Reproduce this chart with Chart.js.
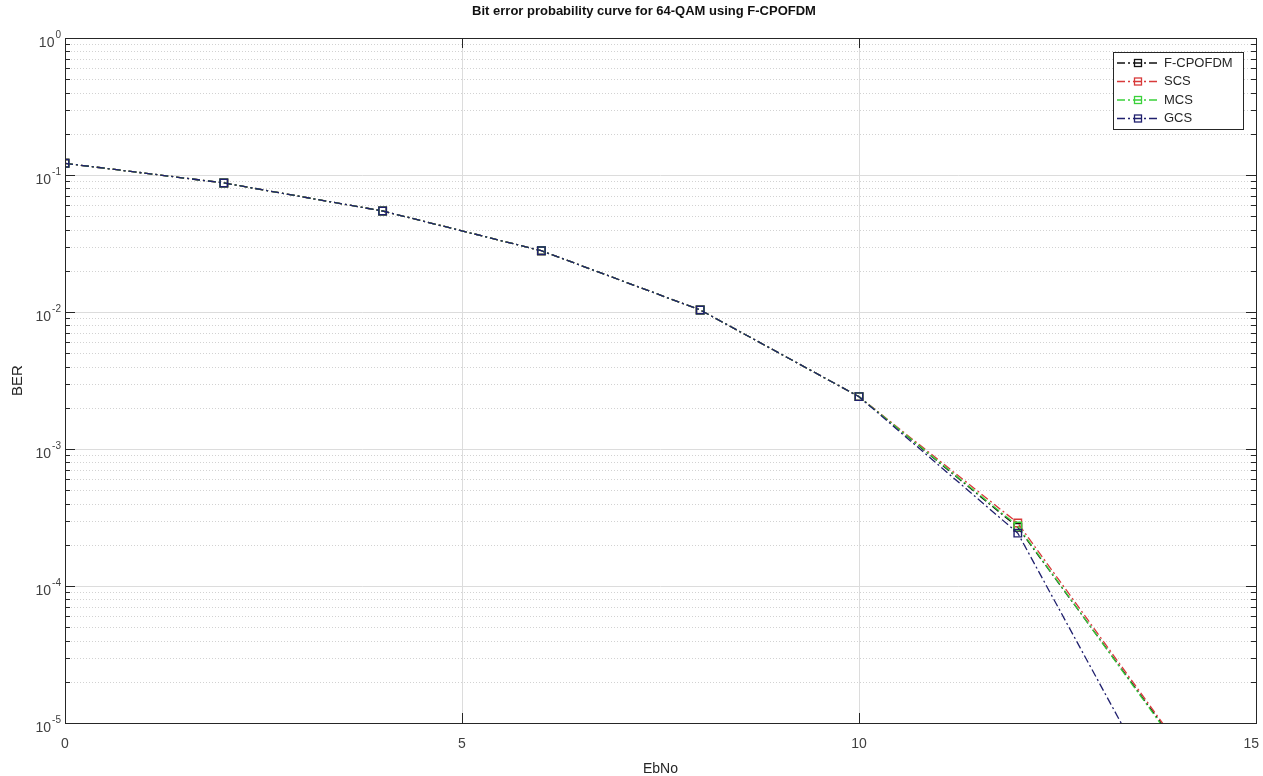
<!DOCTYPE html>
<html>
<head>
<meta charset="utf-8">
<script src="https://cdn.jsdelivr.net/npm/chart.js@4.4.1/dist/chart.umd.min.js"></script>
<style>
html,body{margin:0;padding:0;background:#fff;}
#wrap{width:1263px;height:776px;position:relative;}
canvas{display:block;}
</style>
</head>
<body>
<div id="wrap"><canvas id="c" width="1263" height="776"></canvas></div>
<script>
// ---- data ----
const chartTitle = 'Bit error probability curve for 64-QAM using F-CPOFDM';
const xLabel = 'EbNo';
const yLabel = 'BER';
const ebNo = [0, 2, 4, 6, 8, 10, 12, 14];
const berFCPOFDM = [0.1217, 0.0875, 0.0546, 0.0280, 0.01035, 0.00241, 0.000268, 0.0000070];
const berSCS     = [0.1217, 0.0875, 0.0546, 0.0280, 0.01035, 0.00241, 0.000288, 0.0000072];
const berMCS     = [0.1217, 0.0875, 0.0546, 0.0280, 0.01035, 0.00241, 0.000274, 0.0000068];
const berGCS     = [0.1217, 0.0875, 0.0546, 0.0280, 0.01035, 0.00241, 0.000243, 0.0000018];
const seriesNames = ['F-CPOFDM', 'SCS', 'MCS', 'GCS'];
const xTickValues = [0, 5, 10, 15];
const yTickExponents = [0, -1, -2, -3, -4, -5];

const seriesColors = ['#111111', '#d83a3a', '#3ad13a', '#20206e'];
const seriesData = [berFCPOFDM, berSCS, berMCS, berGCS];
const DASH = [8, 3, 2, 3];
const FONT = '"Liberation Sans", Arial, sans-serif';

const datasets = seriesData.map((arr, i) => ({
  label: seriesNames[i],
  data: ebNo.map((x, j) => ({x: x, y: arr[j]})),
  borderColor: seriesColors[i],
  borderWidth: 1.3,
  borderDash: DASH,
  pointStyle: 'rect',
  pointRadius: 5.3,
  pointBorderWidth: 1.4,
  pointBorderColor: seriesColors[i],
  pointBackgroundColor: 'rgba(0,0,0,0)',
  fill: false,
  tension: 0,
  order: seriesNames.length - i
}));

const matlabPlugin = {
  id: 'matlabLook',
  beforeDatasetsDraw(chart) {
    const {ctx, chartArea: a, scales: {x, y}} = chart;
    ctx.save();
    ctx.lineWidth = 1;
    for (let e = -5; e <= -1; e++) {
      for (let m = 2; m <= 9; m++) {
        const py = Math.round(y.getPixelForValue(m * Math.pow(10, e))) + 0.5;
        ctx.strokeStyle = '#d2d2d2';
        ctx.setLineDash([1, 2]);
        ctx.beginPath(); ctx.moveTo(a.left, py); ctx.lineTo(a.right, py); ctx.stroke();
      }
    }
    ctx.setLineDash([]);
    ctx.strokeStyle = '#dcdcdc';
    yTickExponents.forEach(e => {
      const py = Math.round(y.getPixelForValue(Math.pow(10, e))) + 0.5;
      ctx.beginPath(); ctx.moveTo(a.left, py); ctx.lineTo(a.right, py); ctx.stroke();
    });
    xTickValues.forEach(v => {
      const px = Math.round(x.getPixelForValue(v)) + 0.5;
      ctx.beginPath(); ctx.moveTo(px, a.top); ctx.lineTo(px, a.bottom); ctx.stroke();
    });
    ctx.restore();
  },
  afterDatasetsDraw(chart) {
    const {ctx, chartArea: a, scales: {x, y}} = chart;
    ctx.save();
    ctx.setLineDash([]);
    ctx.strokeStyle = '#262626';
    ctx.lineWidth = 1;
    ctx.strokeRect(Math.round(a.left) + 0.5, Math.round(a.top) + 0.5,
                   Math.round(a.right - a.left), Math.round(a.bottom - a.top));
    for (let e = -5; e <= 0; e++) {
      for (let m = 1; m <= 9; m++) {
        const v = m * Math.pow(10, e);
        if (v > 1.0000001) continue;
        const py = Math.round(y.getPixelForValue(v)) + 0.5;
        const len = (m === 1) ? 10 : 5;
        ctx.beginPath();
        ctx.moveTo(a.left, py); ctx.lineTo(a.left + len, py);
        ctx.moveTo(a.right, py); ctx.lineTo(a.right - len, py);
        ctx.stroke();
      }
    }
    xTickValues.forEach(v => {
      const px = Math.round(x.getPixelForValue(v)) + 0.5;
      ctx.beginPath();
      ctx.moveTo(px, a.bottom); ctx.lineTo(px, a.bottom - 10);
      ctx.moveTo(px, a.top); ctx.lineTo(px, a.top + 10);
      ctx.stroke();
    });
    // x tick labels
    ctx.fillStyle = '#404040';
    ctx.font = '14px ' + FONT;
    ctx.textAlign = 'center';
    ctx.textBaseline = 'middle';
    xTickValues.forEach(v => {
      const s = String(v);
      const w = ctx.measureText(s).width;
      const px = Math.min(x.getPixelForValue(v), chart.width - w / 2 - 4);
      ctx.fillText(s, px, a.bottom + 21);
    });
    // y tick labels 10^e
    yTickExponents.forEach(e => {
      const py = y.getPixelForValue(Math.pow(10, e));
      const expStr = String(e);
      ctx.font = '10px ' + FONT;
      const we = ctx.measureText(expStr).width;
      ctx.font = '14px ' + FONT;
      const wb = ctx.measureText('10').width;
      const right = a.left - 4;
      ctx.textAlign = 'left';
      ctx.textBaseline = 'middle';
      ctx.fillText('10', right - we - wb - 1, py + 5);
      ctx.font = '10px ' + FONT;
      ctx.fillText(expStr, right - we, py - 3);
    });
    // title
    ctx.fillStyle = '#111';
    ctx.font = 'bold 13px ' + FONT;
    ctx.textAlign = 'center';
    ctx.textBaseline = 'middle';
    ctx.fillText(chartTitle, 644, 11);
    // legend
    const lx = 1113, ly = 52, lw = 130, lh = 77;
    ctx.fillStyle = '#ffffff';
    ctx.fillRect(lx, ly, lw, lh);
    ctx.strokeStyle = '#262626';
    ctx.lineWidth = 1;
    ctx.strokeRect(lx + 0.5, ly + 0.5, lw, lh);
    seriesNames.forEach((name, i) => {
      const cy = ly + 11 + i * 18.5;
      ctx.strokeStyle = seriesColors[i];
      ctx.lineWidth = 1.3;
      ctx.setLineDash(DASH);
      ctx.beginPath(); ctx.moveTo(lx + 4, cy); ctx.lineTo(lx + 47, cy); ctx.stroke();
      ctx.setLineDash([]);
      ctx.strokeRect(lx + 21.5, cy - 3.5, 7, 7);
      ctx.fillStyle = '#262626';
      ctx.font = '13px ' + FONT;
      ctx.textAlign = 'left';
      ctx.textBaseline = 'middle';
      ctx.fillText(name, lx + 51, cy);
    });
    ctx.restore();
  }
};

new Chart(document.getElementById('c'), {
  type: 'line',
  data: {datasets: datasets},
  plugins: [matlabPlugin],
  options: {
    responsive: false,
    animation: false,
    layout: {padding: {top: 38, right: 7, left: 0, bottom: 0}},
    plugins: {legend: {display: false}, title: {display: false}, tooltip: {enabled: false}},
    scales: {
      x: {
        type: 'linear', min: 0, max: 15,
        grid: {display: false}, border: {display: false},
        ticks: {display: false, stepSize: 5},
        title: {display: true, text: xLabel, color: '#262626',
                font: {family: FONT, size: 14, lineHeight: 1}, padding: {top: 0, bottom: 0}},
        afterFit(scale) { scale.height = 53; }
      },
      y: {
        type: 'logarithmic', min: 1e-5, max: 1,
        grid: {display: false}, border: {display: false},
        ticks: {display: false},
        title: {display: true, text: yLabel, color: '#262626',
                font: {family: FONT, size: 15, lineHeight: 1}, padding: {top: 10, bottom: 0}},
        afterFit(scale) { scale.width = 65; }
      }
    }
  }
});
</script>
</body>
</html>
